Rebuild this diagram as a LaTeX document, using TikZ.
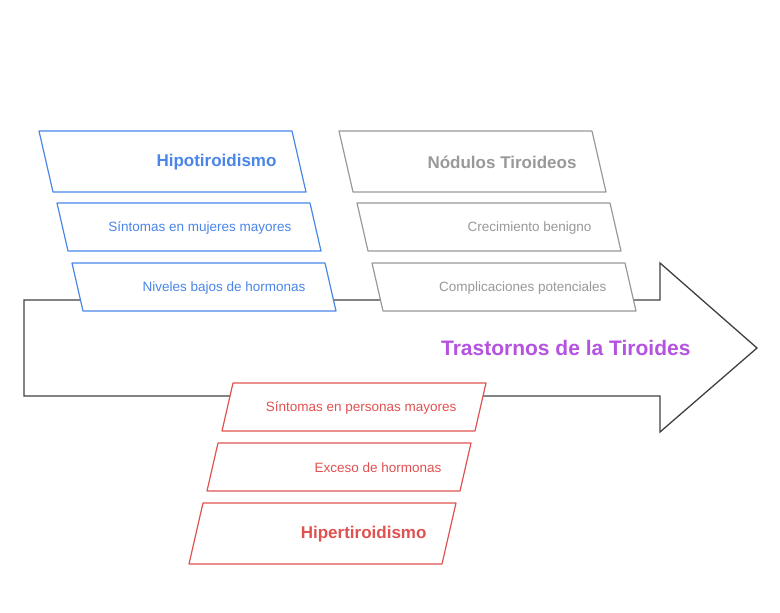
\documentclass[tikz,border=0pt]{standalone}
\usepackage{fontspec}
\setmainfont{Liberation Sans}
\definecolor{cb}{HTML}{4A86E8}
\definecolor{cg}{HTML}{999999}
\definecolor{cr}{HTML}{E05252}
\definecolor{cp}{HTML}{B553E0}
\definecolor{ca}{HTML}{404040}
\begin{document}
\begin{tikzpicture}[x=1pt,y=-1pt,
  box/.style={draw=#1,fill=white,line width=1.2pt,line join=round},
  big/.style={anchor=east,font=\fontsize{17}{20}\selectfont\bfseries,text=#1},
  small/.style={anchor=east,font=\fontsize{13.5}{16}\selectfont,text=#1}]
\useasboundingbox (0,0) rectangle (780,613);
\draw[ca,line width=1.3pt,line join=miter] (24,300) -- (660,300) -- (660,263) -- (757,348) -- (660,432) -- (660,396) -- (24,396) -- cycle;
% blue
\draw[box=cb] (39,131) -- (292,131) -- (306,192) -- (53,192) -- cycle;
\node[big=cb] (h1) at (280,162) {Hipotiroidismo};
\draw[box=cb] (57,203) -- (310,203) -- (321,251) -- (68,251) -- cycle;
\node[small=cb] (h2) at (295,228) {Síntomas en mujeres mayores};
\draw[box=cb] (72,263) -- (325,263) -- (336,311) -- (83,311) -- cycle;
\node[small=cb] (h3) at (309,288) {Niveles bajos de hormonas};
% gray
\draw[box=cg] (339,131) -- (592,131) -- (606,192) -- (353,192) -- cycle;
\node[big=cg] (n1) at (580,162) {Nódulos Tiroideos};
\draw[box=cg] (357,203) -- (610,203) -- (621,251) -- (368,251) -- cycle;
\node[small=cg] (n2) at (595,228) {Crecimiento benigno};
\draw[box=cg] (372,263) -- (625,263) -- (636,311) -- (383,311) -- cycle;
\node[small=cg] (n3) at (610,288) {Complicaciones potenciales};
% red
\draw[box=cr] (233,383) -- (486,383) -- (475,431) -- (222,431) -- cycle;
\node[small=cr] (r1) at (460,408) {Síntomas en personas mayores};
\draw[box=cr] (218,443) -- (471,443) -- (460,491) -- (207,491) -- cycle;
\node[small=cr] (r2) at (445,468) {Exceso de hormonas};
\draw[box=cr] (203,503) -- (456,503) -- (442,564) -- (189,564) -- cycle;
\node[big=cr] (r3) at (430,534) {Hipertiroidismo};
\node[anchor=east,font=\fontsize{21}{24}\selectfont\bfseries,text=cp] (t) at (694,348) {Trastornos de la Tiroides};
\end{tikzpicture}
\end{document}
